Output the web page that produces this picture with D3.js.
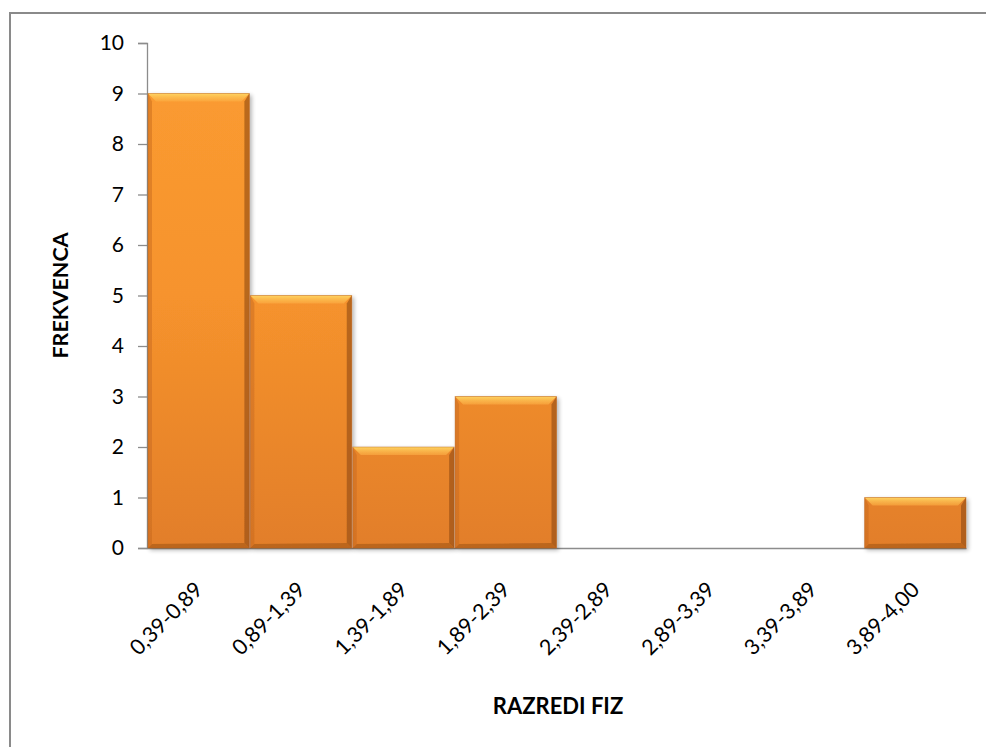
<!DOCTYPE html>
<html>
<head>
<meta charset="utf-8">
<script src="https://cdn.jsdelivr.net/npm/d3@7"></script>
<style>
  html, body { margin: 0; padding: 0; background: #fff; }
  svg { display: block; }
  text { font-family: Lato, "Open Sans", "DejaVu Sans", sans-serif; fill: #000; }
</style>
</head>
<body>
<svg id="chart" width="986" height="747"></svg>
<script>
// Frequency by class interval
const categories = ["0,39-0,89", "0,89-1,39", "1,39-1,89", "1,89-2,39", "2,39-2,89", "2,89-3,39", "3,39-3,89", "3,89-4,00"];
const frequencies = [9, 5, 2, 3, 0, 0, 0, 1];
const yTicks = [0, 1, 2, 3, 4, 5, 6, 7, 8, 9, 10];

const svg = d3.select("#chart");
const FONT = "Lato, 'Open Sans', sans-serif";

// outer chart frame
svg.append("rect")
  .attr("x", 10).attr("y", 13)
  .attr("width", 990).attr("height", 760)
  .attr("fill", "none").attr("stroke", "#8a8a8a").attr("stroke-width", 2);

const x = d3.scaleBand().domain(categories).range([147, 966]).paddingInner(0).paddingOuter(0);
const y = d3.scaleLinear().domain([0, 10]).range([548, 43]);

const defs = svg.append("defs");
const grad = defs.append("linearGradient").attr("id", "barFill")
  .attr("x1", 0).attr("x2", 0)
  .attr("gradientUnits", "userSpaceOnUse")
  .attr("y1", y(10)).attr("y2", y(0));
grad.append("stop").attr("offset", "0%").attr("stop-color", "#fb9c31");
grad.append("stop").attr("offset", "50%").attr("stop-color", "#f6932d");
grad.append("stop").attr("offset", "100%").attr("stop-color", "#e27e29");

const topGrad = defs.append("linearGradient").attr("id", "topBevel")
  .attr("x1", 0).attr("y1", 0).attr("x2", 0).attr("y2", 1);
topGrad.append("stop").attr("offset", "0%").attr("stop-color", "#ffd763").attr("stop-opacity", 0.95);
topGrad.append("stop").attr("offset", "100%").attr("stop-color", "#fcae45").attr("stop-opacity", 0.6);

const shadow = defs.append("filter").attr("id", "shadow")
  .attr("x", "-10%").attr("y", "-10%").attr("width", "130%").attr("height", "130%");
shadow.append("feGaussianBlur").attr("in", "SourceAlpha").attr("stdDeviation", 2.2);
shadow.append("feOffset").attr("dx", 2).attr("dy", 2).attr("result", "off");
shadow.append("feComponentTransfer").append("feFuncA").attr("type", "linear").attr("slope", 0.3);
const merge = shadow.append("feMerge");
merge.append("feMergeNode");
merge.append("feMergeNode").attr("in", "SourceGraphic");

// y axis
const yAxis = d3.axisLeft(y).tickValues(yTicks).tickSize(9).tickPadding(14);
const gy = svg.append("g").attr("transform", `translate(${x.range()[0]},0)`).call(yAxis);
gy.select(".domain").attr("stroke", "#8c8c8c").attr("stroke-width", 1.3);
gy.selectAll(".tick line").attr("stroke", "#8c8c8c").attr("stroke-width", 1.3);
gy.selectAll(".tick text").attr("font-size", 21).attr("font-family", FONT).attr("fill", "#000");

// x axis baseline and rotated class labels
const xAxis = d3.axisBottom(x).tickSize(0).tickPadding(0);
const gx = svg.append("g").attr("transform", `translate(0,${y(0)})`).call(xAxis);
gx.select(".domain").attr("stroke", "#8c8c8c").attr("stroke-width", 1.3);
gx.selectAll(".tick text")
  .attr("font-size", 21.5)
  .attr("font-family", FONT)
  .attr("fill", "#000")
  .attr("text-anchor", "end")
  .attr("y", 0)
  .attr("dy", null)
  .attr("transform", "translate(6,43) rotate(-45)");

// bars with beveled edges
const bev = 8;
const bars = svg.append("g").selectAll("g.bar")
  .data(categories.map((c, i) => ({ c, v: frequencies[i] })).filter(d => d.v > 0))
  .join("g").attr("class", "bar").attr("filter", "url(#shadow)");

bars.each(function(d) {
  const g = d3.select(this);
  const x0 = x(d.c) + 1, x1 = x(d.c) + x.bandwidth();
  const y0 = y(d.v), y1 = y(0);
  g.append("rect").attr("x", x0).attr("y", y0).attr("width", x1 - x0).attr("height", y1 - y0)
    .attr("fill", "url(#barFill)");
  const poly = (pts, fill, op) => g.append("polygon")
    .attr("points", pts.map(p => p.join(",")).join(" "))
    .attr("fill", fill).attr("opacity", op);
  // top highlight
  poly([[x0, y0], [x1, y0], [x1 - bev, y0 + bev], [x0 + bev, y0 + bev]], "url(#topBevel)", 1);
  // left edge
  poly([[x0, y0], [x0 + 4, y0 + bev], [x0 + 4, y1 - 4], [x0, y1]], "#c4661e", 0.45);
  // right edge
  poly([[x1, y0], [x1 - 5, y0 + bev], [x1 - 5, y1 - 5], [x1, y1]], "#8f4a12", 0.6);
  // bottom edge
  poly([[x0, y1], [x1, y1], [x1 - 5, y1 - 5], [x0 + 4, y1 - 4]], "#9c5218", 0.55);
  // thin outline
  g.append("rect").attr("x", x0).attr("y", y0).attr("width", x1 - x0).attr("height", y1 - y0)
    .attr("fill", "none").attr("stroke", "#b45c1b").attr("stroke-width", 0.8).attr("opacity", 0.5);
});

// axis titles
svg.append("text")
  .attr("transform", `translate(68,${(y(0) + y(10)) / 2}) rotate(-90)`)
  .attr("text-anchor", "middle")
  .attr("font-size", 21.5).attr("font-weight", "bold")
  .text("FREKVENCA");

svg.append("text")
  .attr("x", 558)
  .attr("y", 714)
  .attr("text-anchor", "middle")
  .attr("font-size", 22).attr("font-weight", "bold")
  .text("RAZREDI FIZ");
</script>
</body>
</html>
